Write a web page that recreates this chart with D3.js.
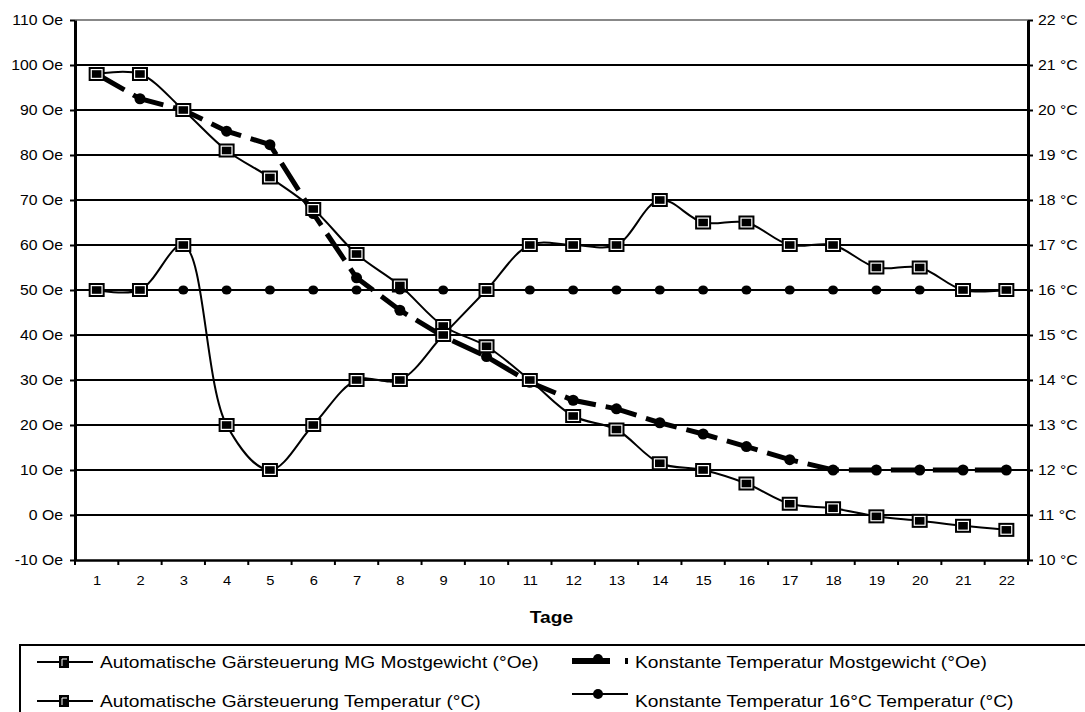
<!DOCTYPE html>
<html>
<head>
<meta charset="utf-8">
<script src="https://cdn.jsdelivr.net/npm/d3@7"></script>
<style>
  body { margin: 0; background: #fff; }
  svg { display: block; }
  text { font-family: "Liberation Sans", Arial, sans-serif; fill: #000; }
</style>
</head>
<body>
<div id="chart"></div>
<script>
'use strict'

// data
const days = ["1","2","3","4","5","6","7","8","9","10","11","12","13","14","15","16","17","18","19","20","21","22"];
const oeTicks = [-10, 0, 10, 20, 30, 40, 50, 60, 70, 80, 90, 100, 110];
const tempTicks = [10, 11, 12, 13, 14, 15, 16, 17, 18, 19, 20, 21, 22];

const autoMG    = [98, 98, 90, 81, 75, 68, 58, 51, 42, 37.5, 30, 22, 19, 11.5, 10, 7, 2.5, 1.5, -0.3, -1.3, -2.4, -3.3];
const konstMG   = [98, 92.5, 90, 85.3, 82.3, 67, 52.7, 45.5, 39.7, 35.2, 29.5, 25.5, 23.6, 20.5, 18, 15.2, 12.3, 10, 10, 10, 10, 10];
const autoTemp  = [16, 16, 17, 13, 12, 13, 14, 14, 15, 16, 17, 17, 17, 18, 17.5, 17.5, 17, 17, 16.5, 16.5, 16, 16];
const konstTemp = [16, 16, 16, 16, 16, 16, 16, 16, 16, 16, 16, 16, 16, 16, 16, 16, 16, 16, 16, 16, 16, 16];

const legendNames = [
  "Automatische Gärsteuerung MG Mostgewicht (°Oe)",
  "Konstante Temperatur Mostgewicht (°Oe)",
  "Automatische Gärsteuerung Temperatur (°C)",
  "Konstante Temperatur 16°C Temperatur (°C)"
];

const w = 1085, h = 712;
const pLeft = 75, pRight = 1028, pTop = 20, pBottom = 560;
const sx = 1.13; // the original picture is a bit stretched sideways

const svg = d3.select("#chart").append("svg")
  .attr("width", w).attr("height", h);

const x = d3.scalePoint().domain(days).range([pLeft, pRight]).padding(0.5);
const yL = d3.scaleLinear().domain([-10, 110]).range([pBottom, pTop]);
const yR = d3.scaleLinear().domain([10, 22]).range([pBottom, pTop]);

// horizontal gridlines
svg.append("g").selectAll("line")
  .data(oeTicks.filter(v => v > -10 && v < 110))
  .enter().append("line")
  .attr("x1", pLeft).attr("x2", pRight)
  .attr("y1", d => yL(d)).attr("y2", d => yL(d))
  .attr("stroke", "#000").attr("stroke-width", 2);

// grey top border of the plot
svg.append("line")
  .attr("x1", pLeft).attr("x2", pRight)
  .attr("y1", yL(110)).attr("y2", yL(110))
  .attr("stroke", "#888").attr("stroke-width", 2);

// left axis
const axL = svg.append("g").attr("transform", "translate(" + pLeft + ",0)")
  .call(d3.axisLeft(yL).tickValues(oeTicks).tickFormat(d => d + " Oe").tickSize(5).tickSizeOuter(0));
axL.attr("font-family", null).attr("font-size", 14);
axL.select(".domain").attr("stroke-width", 3);
axL.selectAll(".tick line").attr("stroke-width", 2);
axL.selectAll(".tick text").attr("x", -12 / sx).attr("transform", "scale(" + sx + ",1)");

// right axis
const axR = svg.append("g").attr("transform", "translate(" + pRight + ",0)")
  .call(d3.axisRight(yR).tickValues(tempTicks).tickFormat(d => d + " °C").tickSize(5).tickSizeOuter(0));
axR.attr("font-family", null).attr("font-size", 14);
axR.select(".domain").attr("stroke-width", 3);
axR.selectAll(".tick line").attr("stroke-width", 2);
axR.selectAll(".tick text").attr("x", 10 / sx).attr("transform", "scale(" + sx + ",1)");

// bottom axis, labels centred on the days, ticks between them
const axB = svg.append("g").attr("transform", "translate(0," + pBottom + ")")
  .call(d3.axisBottom(x).tickSize(0).tickPadding(16).tickSizeOuter(0));
axB.attr("font-family", null).attr("font-size", 13);
axB.select(".domain").attr("stroke-width", 2.5);
axB.selectAll(".tick text").attr("transform", "scale(" + sx + ",1)");

svg.append("g").selectAll("line")
  .data(d3.range(days.length + 1))
  .enter().append("line")
  .attr("x1", i => pLeft + i * x.step()).attr("x2", i => pLeft + i * x.step())
  .attr("y1", pBottom).attr("y2", pBottom + 5)
  .attr("stroke", "#000").attr("stroke-width", 2);

svg.append("text")
  .attr("transform", "translate(" + ((pLeft + pRight) / 2) + ",623) scale(" + sx + ",1)")
  .attr("text-anchor", "middle")
  .attr("font-size", 17).attr("font-weight", "bold")
  .text("Tage");

// series
const lineOf = (yScale, curve) => d3.line()
  .x((d, i) => x(days[i]))
  .y(d => yScale(d))
  .curve(curve);

function squares(values, yScale) {
  const g = svg.append("g").selectAll("g")
    .data(values).enter().append("g")
    .attr("transform", (d, i) => "translate(" + x(days[i]) + "," + yScale(d) + ")");
  g.append("rect")
    .attr("x", -8).attr("y", -7).attr("width", 16).attr("height", 14)
    .attr("fill", "#000");
  g.append("rect")
    .attr("x", -5.4).attr("y", -4.4).attr("width", 10.8).attr("height", 8.8)
    .attr("fill", "none").attr("stroke", "#fff").attr("stroke-width", 1.2);
}

// Konstante Temperatur Mostgewicht: thick dashed line with round markers
svg.append("path")
  .datum(konstMG)
  .attr("d", lineOf(yL, d3.curveLinear))
  .attr("fill", "none").attr("stroke", "#000")
  .attr("stroke-width", 5).attr("stroke-dasharray", "32,10");
svg.append("g").selectAll("circle")
  .data(konstMG).enter().append("circle")
  .attr("cx", (d, i) => x(days[i])).attr("cy", d => yL(d))
  .attr("r", 5.5).attr("fill", "#000");

// Automatische Gärsteuerung MG Mostgewicht
svg.append("path")
  .datum(autoMG)
  .attr("d", lineOf(yL, d3.curveCatmullRom))
  .attr("fill", "none").attr("stroke", "#000").attr("stroke-width", 2);
squares(autoMG, yL);

// Konstante Temperatur 16°C
svg.append("path")
  .datum(konstTemp)
  .attr("d", lineOf(yR, d3.curveLinear))
  .attr("fill", "none").attr("stroke", "#000").attr("stroke-width", 2);
svg.append("g").selectAll("ellipse")
  .data(konstTemp).enter().append("ellipse")
  .attr("cx", (d, i) => x(days[i])).attr("cy", d => yR(d))
  .attr("rx", 5).attr("ry", 4.5).attr("fill", "#000");

// Automatische Gärsteuerung Temperatur
svg.append("path")
  .datum(autoTemp)
  .attr("d", lineOf(yR, d3.curveCatmullRom))
  .attr("fill", "none").attr("stroke", "#000").attr("stroke-width", 2);
squares(autoTemp, yR);

// legend
const lg = svg.append("g");
lg.append("rect")
  .attr("x", 20).attr("y", 645).attr("width", 1100).attr("height", 100)
  .attr("fill", "none").attr("stroke", "#000").attr("stroke-width", 2);

const legendItems = [
  { name: legendNames[0], x: 37, y: 662, sy: 662, kind: "square" },
  { name: legendNames[1], x: 572, y: 662, sy: 661, kind: "thick" },
  { name: legendNames[2], x: 37, y: 701, sy: 701, kind: "square" },
  { name: legendNames[3], x: 572, y: 701, sy: 694, kind: "dot" }
];

legendItems.forEach(function(it) {
  const g = lg.append("g");
  if (it.kind === "thick") {
    g.append("line")
      .attr("x1", it.x).attr("x2", it.x + 56).attr("y1", it.sy).attr("y2", it.sy)
      .attr("stroke", "#000").attr("stroke-width", 6).attr("stroke-dasharray", "38,15");
    g.append("circle").attr("cx", it.x + 26).attr("cy", it.sy - 2).attr("r", 5).attr("fill", "#000");
  } else {
    g.append("line")
      .attr("x1", it.x).attr("x2", it.x + 56).attr("y1", it.sy).attr("y2", it.sy)
      .attr("stroke", "#000").attr("stroke-width", 2);
    if (it.kind === "square") {
      g.append("rect")
        .attr("x", it.x + 22).attr("y", it.sy - 6).attr("width", 10).attr("height", 12)
        .attr("fill", "#000");
      g.append("path")
        .attr("d", "M" + (it.x + 25) + "," + (it.sy + 4) + "V" + (it.sy - 3) + "H" + (it.x + 30))
        .attr("fill", "none").attr("stroke", "#fff").attr("stroke-width", 1);
    } else {
      g.append("circle").attr("cx", it.x + 26).attr("cy", it.sy).attr("r", 5).attr("fill", "#000");
    }
  }
  g.append("text")
    .attr("transform", "translate(" + (it.x + 63) + "," + it.y + ") scale(" + sx + ",1)")
    .attr("dy", "0.35em")
    .attr("font-size", 17)
    .text(it.name);
});
</script>
</body>
</html>
